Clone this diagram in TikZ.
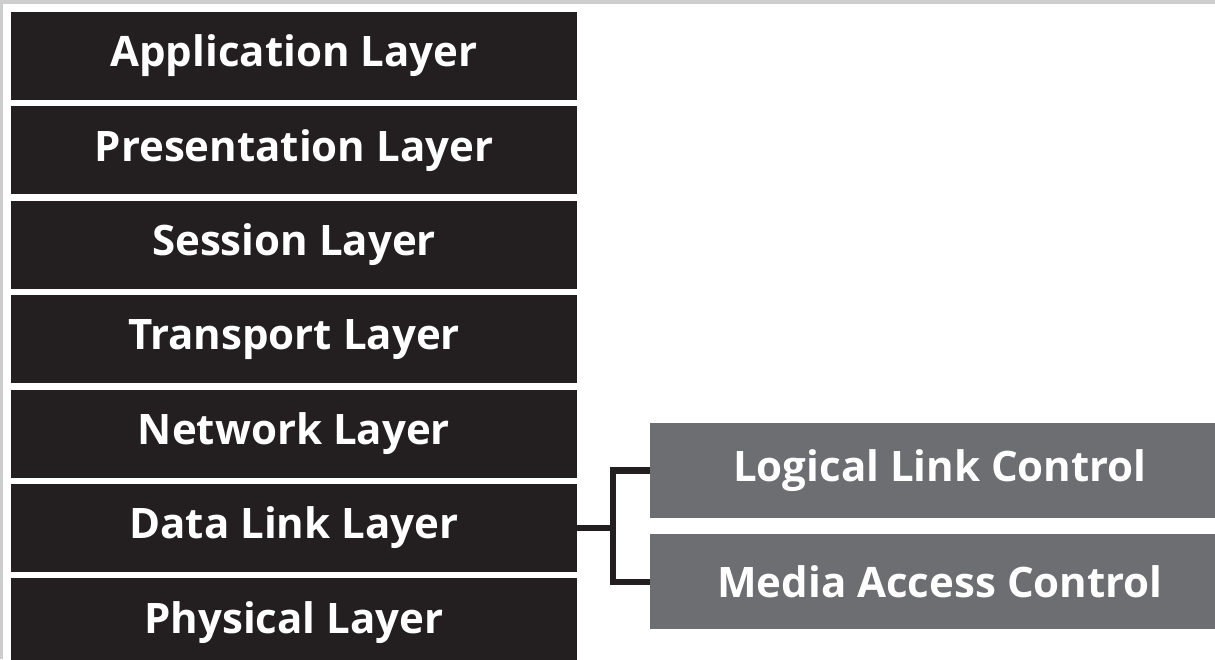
\documentclass[tikz,border=0pt]{standalone}
\usepackage{fontspec}
\setsansfont{Open Sans}
\usepackage{xcolor}
\usepackage{tikz}
\usetikzlibrary{positioning, calc}

\definecolor{layerblack}{HTML}{231F20}
\definecolor{sublayergray}{HTML}{6D6E71}
\definecolor{framegray}{HTML}{CDCDCD}

\begin{document}
\begin{tikzpicture}[
        x=1pt, y=-1pt,
        node distance=6pt and 6pt,
        font=\sffamily\bfseries\fontsize{42pt}{48pt}\selectfont,
        % layer blocks
        layer/.style={rectangle, fill=layerblack, text=white, minimum width=566pt, minimum height=88pt, inner sep=0pt, text centered},
        sublayer/.style={rectangle, fill=sublayergray, text=white, minimum width=580pt, minimum height=95pt, inner sep=0pt, text centered},
        link/.style={draw=layerblack, line width=6.5pt}
    ]
    \useasboundingbox (0,0) rectangle (1215,659);
    \fill[framegray] (0,0) rectangle (1215,4);
    \fill[framegray] (0,0) rectangle (3,659);

    % --- OSI layers ---
    \node[layer] at (294,56) (app) {Application Layer};
    \node[layer, below=of app] (pres) {Presentation Layer};
    \node[layer, below=of pres] (sess) {Session Layer};
    \node[layer, below=of sess] (trans) {Transport Layer};
    \node[layer, below=of trans] (net) {Network Layer};
    \node[layer, below=of net] (dlink) {Data Link Layer};
    \node[layer, below=of dlink] (phys) {Physical Layer};

    % --- data link sublayers ---
    \node[sublayer] at (940,470.5) (llc) {Logical Link Control};
    \node[sublayer, below=16pt of llc] (mac) {Media Access Control};

    % --- bracket ---
    \draw[link] (llc.west) -| ([xshift=36pt]dlink.east) -- (dlink.east);
    \draw[link] (mac.west) -| ([xshift=36pt]dlink.east);

\end{tikzpicture}
\end{document}
